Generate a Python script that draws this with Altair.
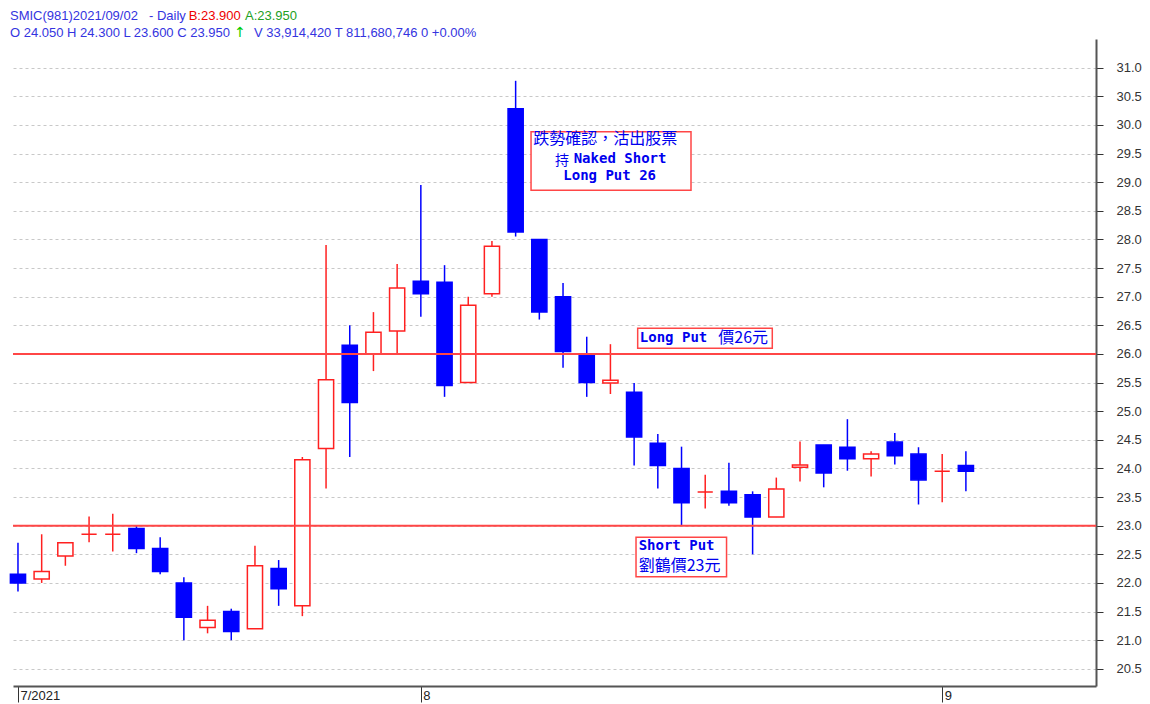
import altair as alt
import pandas as pd

# ---------------- data ----------------
dates = [
    "2021-07-08", "2021-07-09", "2021-07-12", "2021-07-13", "2021-07-14", "2021-07-15",
    "2021-07-16", "2021-07-19", "2021-07-20", "2021-07-21", "2021-07-22", "2021-07-23",
    "2021-07-26", "2021-07-27", "2021-07-28", "2021-07-29", "2021-07-30",
    "2021-08-02", "2021-08-03", "2021-08-04", "2021-08-05", "2021-08-06",
    "2021-08-09", "2021-08-10", "2021-08-11", "2021-08-12", "2021-08-13",
    "2021-08-16", "2021-08-17", "2021-08-18", "2021-08-19", "2021-08-20",
    "2021-08-23", "2021-08-24", "2021-08-25", "2021-08-26", "2021-08-27",
    "2021-08-30", "2021-08-31", "2021-09-01", "2021-09-02",
]
opens = [22.15, 22.07, 22.47, 22.85, 22.85, 22.95, 22.60, 22.00, 21.22, 21.50, 21.20, 22.25,
         21.60, 24.35, 26.15, 26.00, 26.40, 27.27, 27.25, 25.50, 27.05, 30.28, 28.00, 27.00,
         25.98, 25.49, 25.33, 24.44, 24.00, 23.59, 23.60, 23.54, 23.15, 24.02, 24.41, 24.37,
         24.17, 24.46, 24.25, 23.95, 24.05]
highs = [22.70, 22.85, 22.70, 23.16, 23.21, 23.00, 22.80, 22.10, 21.60, 21.55, 22.65, 22.40,
         24.20, 27.90, 26.50, 26.73, 27.57, 28.95, 27.55, 27.00, 27.97, 30.77, 28.00, 27.24,
         26.30, 26.17, 25.49, 24.60, 24.38, 23.89, 24.10, 23.60, 23.84, 24.47, 24.41, 24.86,
         24.30, 24.62, 24.37, 24.25, 24.30]
lows = [21.85, 22.00, 22.30, 22.71, 22.55, 22.52, 22.15, 21.00, 21.12, 21.00, 21.20, 21.60,
        21.42, 23.65, 24.20, 25.70, 26.00, 26.65, 25.25, 25.50, 27.00, 28.05, 26.60, 25.76,
        25.25, 25.30, 24.05, 23.65, 23.00, 23.30, 23.35, 22.50, 23.15, 23.77, 23.67, 23.96,
        23.86, 24.07, 23.37, 23.41, 23.60]
closes = [22.00, 22.20, 22.70, 22.85, 22.85, 22.60, 22.20, 21.40, 21.35, 21.15, 22.30, 21.90,
          24.15, 25.55, 25.15, 26.38, 27.15, 27.05, 25.45, 26.85, 27.88, 28.13, 26.73, 26.04,
          25.50, 25.54, 24.55, 24.05, 23.40, 23.59, 23.40, 23.15, 23.64, 24.06, 23.92, 24.17,
          24.25, 24.22, 23.80, 23.95, 23.95]

month_tick_dates = ["2021-07-08", "2021-08-02", "2021-09-01"]
month_labels = ["7/2021", "8", "9"]
y_ticks = [20.5, 21.0, 21.5, 22.0, 22.5, 23.0, 23.5, 24.0, 24.5, 25.0, 25.5,
           26.0, 26.5, 27.0, 27.5, 28.0, 28.5, 29.0, 29.5, 30.0, 30.5, 31.0]
strike_levels = [26.0, 23.0]

header_title = "SMIC(981)2021/09/02"
header_period = "- Daily"
header_bid = "B:23.900"
header_ask = "A:23.950"
header_ohlc = "O 24.050 H 24.300 L 23.600 C 23.950"
header_arrow = "↑"
header_vol = "V 33,914,420 T 811,680,746  0  +0.00%"

note1_l1 = "跌勢確認，沽出股票"
note1_l2a = "持"
note1_l2b = "Naked Short"
note1_l3 = "Long Put 26"
note2_a = "Long Put"
note2_b = "價26元"
note3_l1 = "Short Put"
note3_l2 = "劉鶴價23元"

# ---------------- styling ----------------
RED = "#ff2020"
BLUE = "#0000ff"
LINE_RED = "#ff4646"
TXT_BLUE = "#0000ee"
HDR_BLUE = "#3434e0"
MONO = "DejaVu Sans Mono"
CJK = "Noto Sans CJK TC"
SANS = "Liberation Sans"

df = pd.DataFrame({"date": dates, "open": opens, "high": highs, "low": lows, "close": closes})
df["idx"] = list(range(len(df)))
df["dir"] = ["up" if c >= o else "down" for o, c in zip(opens, closes)]

tick_idx = [dates.index(d) for d in month_tick_dates]
label_expr = "''"
for i, lab in reversed(list(zip(tick_idx, month_labels))):
    label_expr = f"datum.value == {i} ? '{lab}' : ({label_expr})"

xs = alt.Scale(domain=[-0.21, 45.49], nice=False, zero=False)
ys = alt.Scale(domain=[20.2, 31.5], nice=False, zero=False)

x_axis = alt.Axis(values=tick_idx, labelExpr=label_expr, tickSize=16, labelPadding=-13,
                  labelAlign="left", labelBaseline="top", labelOffset=2, labelFontSize=13,
                  labelFont=SANS, labelColor="#222", domainColor="#555", domainWidth=2,
                  tickColor="#333", grid=False, title=None, labelFlush=False,
                  labelOverlap=False)
y_axis = alt.Axis(orient="right", values=y_ticks, format=".1f", tickSize=7, labelPadding=13,
                  labelFontSize=13, labelFont=SANS, labelColor="#333", grid=True,
                  gridDash=[3, 3], gridColor="#c8c8c8", gridWidth=1, domainColor="#555",
                  domainWidth=2, tickColor="#333", title=None)

wicks = alt.Chart(df).mark_rule(strokeWidth=1.5).encode(
    x=alt.X("idx:Q", scale=xs, axis=x_axis, title=None),
    y=alt.Y("low:Q", scale=ys, axis=y_axis, title=None),
    y2="high:Q",
    color=alt.Color("dir:N", scale=alt.Scale(domain=["up", "down"], range=[RED, BLUE]), legend=None),
)

bodies = alt.Chart(df).transform_calculate(
    x1="datum.idx - 0.32", x2="datum.idx + 0.32"
).mark_rect(strokeWidth=1.5).encode(
    x=alt.X("x1:Q", scale=xs, axis=x_axis, title=None),
    x2="x2:Q",
    y=alt.Y("open:Q", scale=ys, axis=y_axis, title=None),
    y2="close:Q",
    stroke=alt.Stroke("dir:N", scale=alt.Scale(domain=["up", "down"], range=[RED, BLUE]), legend=None),
    fill=alt.Fill("dir:N", scale=alt.Scale(domain=["up", "down"], range=["#ffffff", BLUE]), legend=None),
)

levels = alt.Chart(pd.DataFrame({"level": strike_levels})).mark_rule(
    color=LINE_RED, strokeWidth=2
).encode(y=alt.Y("level:Q", scale=ys, axis=y_axis, title=None))

one = pd.DataFrame({"t": [""]})


def box(x1, x2, y1, y2):
    return alt.Chart(one).mark_rect(fill="white", stroke=LINE_RED, strokeWidth=1.5).encode(
        x=alt.XDatum(x1, type="quantitative", scale=xs, axis=x_axis, title=None),
        x2=alt.X2Datum(x2),
        y=alt.YDatum(y1, type="quantitative", scale=ys, axis=y_axis, title=None),
        y2=alt.Y2Datum(y2),
    )


def note(text, x, y, size, font, bold):
    return alt.Chart(pd.DataFrame({"t": [text]})).mark_text(
        align="left", baseline="middle", fontSize=size, font=font,
        fontWeight="bold" if bold else "normal", color=TXT_BLUE
    ).encode(
        x=alt.XDatum(x, type="quantitative", scale=xs, axis=x_axis, title=None),
        y=alt.YDatum(y, type="quantitative", scale=ys, axis=y_axis, title=None),
        text="t:N",
    )


def header(text, x, y, color, size=13, font=SANS, align="left"):
    return alt.Chart(pd.DataFrame({"t": [text]})).mark_text(
        align=align, baseline="middle", fontSize=size, font=font, color=color
    ).encode(x=alt.value(x), y=alt.value(y), text="t:N")


layers = [
    wicks, bodies, levels,
    box(21.65, 28.40, 29.88, 28.86),
    box(26.15, 31.83, 26.45, 26.10),
    box(26.08, 29.90, 22.80, 22.11),
    note(note1_l1, 21.74, 29.75, 16, CJK, False),
    note(note1_l2a, 22.66, 29.375, 14, CJK, False),
    note(note1_l2b, 23.45, 29.41, 14, MONO, True),
    note(note1_l3, 23.01, 29.11, 14, MONO, True),
    note(note2_a, 26.24, 26.28, 14, MONO, True),
    note(note2_b, 29.55, 26.28, 16, CJK, False),
    note(note3_l1, 26.19, 22.64, 14, MONO, True),
    note(note3_l2, 26.19, 22.30, 16, CJK, False),
    header(header_title, -3, -23.3, HDR_BLUE),
    header(header_period, 136, -23.3, HDR_BLUE),
    header(header_bid, 175.7, -23.3, "#ee0000"),
    header(header_ask, 232, -23.3, "#22a022"),
    header(header_ohlc, -3, -6.3, HDR_BLUE),
    header(header_arrow, 227, -6.3, "#00cc00", size=14, font="DejaVu Sans", align="center"),
    header(header_vol, 241, -6.3, HDR_BLUE),
]

chart = alt.layer(*layers).properties(
    width=1083, height=647,
    autosize=alt.AutoSizeParams(type="none"),
    padding={"left": 5, "top": 31, "right": 46, "bottom": 17},
    background="white",
).configure_view(stroke=None)

chart.save("out.html", embed_options={"renderer": "svg", "actions": False})
